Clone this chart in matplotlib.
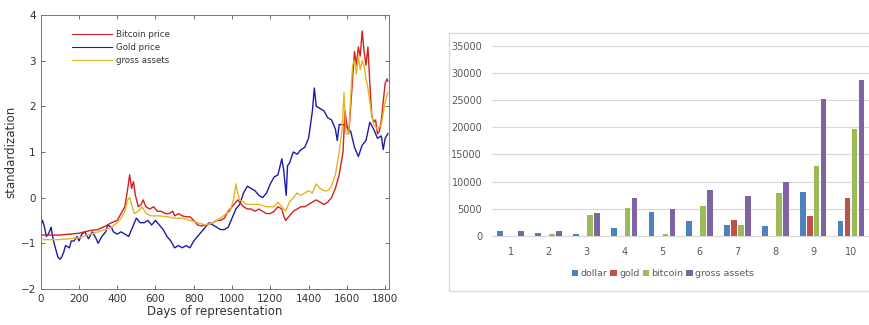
import matplotlib
matplotlib.use("Agg")
import matplotlib.pyplot as plt
import matplotlib.patches as mpatches
from matplotlib.lines import Line2D
import numpy as np

# ── Left panel: standardized series ──────────────────────────────────────────
GOLD_DAYS = [0, 10, 20, 30, 40, 50, 55, 60, 70, 80, 90, 100, 110, 120, 130, 150, 160, 175,
             190, 200, 215, 230, 250, 270, 290, 300, 320, 340, 350, 370, 380, 400, 420, 440,
             460, 475, 490, 500, 520, 540, 560, 580, 600, 620, 640, 660, 680, 700, 720, 740,
             760, 780, 800, 820, 840, 860, 880, 900, 920, 940, 960, 980, 1000, 1020, 1040,
             1060, 1080, 1100, 1120, 1140, 1160, 1180, 1200, 1220, 1240, 1260, 1270, 1283,
             1290, 1300, 1320, 1340, 1360, 1380, 1400, 1420, 1430, 1440, 1460, 1480, 1500,
             1520, 1540, 1550, 1560, 1580, 1600, 1620, 1640, 1660, 1680, 1700, 1720, 1740,
             1760, 1780, 1790, 1800, 1814]
GOLD = [-0.6, -0.5, -0.65, -0.85, -0.8, -0.7, -0.65, -0.8, -1.0, -1.15, -1.3, -1.35, -1.3,
        -1.2, -1.05, -1.1, -0.95, -0.95, -0.85, -0.95, -0.8, -0.75, -0.9, -0.75, -0.9, -1.0,
        -0.85, -0.75, -0.6, -0.65, -0.75, -0.8, -0.75, -0.8, -0.85, -0.7, -0.55, -0.45,
        -0.55, -0.55, -0.5, -0.6, -0.5, -0.6, -0.7, -0.85, -0.95, -1.1, -1.05, -1.1, -1.05,
        -1.1, -0.95, -0.85, -0.75, -0.65, -0.55, -0.6, -0.65, -0.7, -0.7, -0.65, -0.45,
        -0.25, -0.15, 0.1, 0.25, 0.2, 0.15, 0.05, 0.0, 0.1, 0.3, 0.45, 0.5, 0.85, 0.6, 0.05,
        0.7, 0.75, 1.0, 0.95, 1.05, 1.1, 1.3, 1.9, 2.4, 2.0, 1.95, 1.9, 1.75, 1.7, 1.5, 1.25,
        1.6, 1.6, 1.55, 1.45, 1.1, 0.9, 1.15, 1.25, 1.65, 1.5, 1.3, 1.35, 1.05, 1.3, 1.4]

BTC_DAYS = [0, 100, 200, 260, 300, 340, 370, 400, 420, 440, 455, 465, 475, 485, 495, 510,
            525, 535, 550, 570, 590, 610, 630, 650, 670, 690, 700, 720, 740, 760, 780, 800,
            820, 840, 860, 880, 900, 920, 940, 960, 980, 1000, 1020, 1030, 1040, 1060, 1080,
            1100, 1120, 1140, 1160, 1180, 1200, 1220, 1240, 1260, 1270, 1280, 1300, 1320,
            1340, 1360, 1380, 1400, 1420, 1440, 1460, 1480, 1500, 1520, 1540, 1560, 1580,
            1590, 1600, 1610, 1620, 1630, 1640, 1650, 1660, 1670, 1680, 1690, 1700, 1710,
            1720, 1730, 1740, 1750, 1760, 1770, 1780, 1790, 1800, 1810, 1814]
BTC = [-0.82, -0.82, -0.78, -0.72, -0.7, -0.62, -0.55, -0.5, -0.35, -0.2, 0.2, 0.5, 0.2,
       0.35, 0.05, -0.2, -0.15, -0.05, -0.2, -0.25, -0.2, -0.3, -0.3, -0.35, -0.35, -0.3,
       -0.4, -0.35, -0.4, -0.42, -0.42, -0.5, -0.6, -0.62, -0.6, -0.58, -0.55, -0.5, -0.5,
       -0.45, -0.3, -0.2, -0.1, -0.05, -0.1, -0.2, -0.25, -0.25, -0.3, -0.25, -0.3, -0.35,
       -0.35, -0.3, -0.2, -0.25, -0.4, -0.5, -0.4, -0.3, -0.25, -0.2, -0.2, -0.15, -0.1,
       -0.05, -0.1, -0.15, -0.1, 0.0, 0.2, 0.5, 1.0, 1.9, 1.6, 1.4, 2.0, 2.6, 3.2, 2.9, 3.3,
       3.1, 3.65, 3.2, 2.9, 3.3, 2.5, 1.8, 1.65, 1.7, 1.4, 1.45, 1.7, 2.1, 2.5, 2.6, 2.55]

GROSS_DAYS = [0, 100, 200, 260, 300, 340, 370, 400, 420, 440, 455, 465, 475, 490, 510, 530,
              550, 580, 620, 660, 700, 740, 780, 820, 860, 900, 940, 970, 990, 1010, 1020,
              1030, 1040, 1060, 1080, 1100, 1140, 1180, 1220, 1240, 1260, 1280, 1300, 1320,
              1340, 1360, 1380, 1400, 1420, 1440, 1460, 1480, 1500, 1520, 1540, 1560, 1575,
              1585, 1595, 1610, 1620, 1630, 1640, 1650, 1660, 1670, 1680, 1690, 1700, 1710,
              1720, 1730, 1740, 1760, 1780, 1800, 1814]
GROSS = [-0.92, -0.92, -0.88, -0.8, -0.75, -0.7, -0.65, -0.55, -0.45, -0.3, -0.05, 0.0,
         -0.15, -0.35, -0.3, -0.2, -0.35, -0.4, -0.4, -0.42, -0.45, -0.45, -0.5, -0.55,
         -0.6, -0.55, -0.45, -0.35, -0.3, 0.0, 0.3, 0.1, -0.05, -0.1, -0.15, -0.15, -0.15,
         -0.2, -0.2, -0.1, -0.2, -0.3, -0.1, 0.0, 0.1, 0.05, 0.1, 0.15, 0.1, 0.3, 0.2, 0.15,
         0.15, 0.25, 0.5, 1.0, 1.5, 2.3, 1.4, 1.4, 2.2, 2.9, 3.0, 2.7, 3.1, 2.8, 3.0, 2.9,
         2.6, 2.4, 2.1, 1.8, 1.6, 1.5, 1.6, 2.1, 2.3]

# ── Right panel: grouped bars ─────────────────────────────────────────────────
CATEGORIES = [1, 2, 3, 4, 5, 6, 7, 8, 9, 10]
DOLLAR = [900, 500, 400, 1500, 4400, 2700, 2000, 1900, 8100, 2700]
GOLD_B = [0, 0, 0, 0, 0, 0, 2900, 0, 3600, 7000]
BITCOIN = [0, 400, 3800, 5200, 300, 5600, 2100, 7900, 12900, 19600]
GROSS_B = [900, 900, 4200, 7000, 4900, 8400, 7400, 10000, 25300, 28700]

RED = "#d42020"
NAVY = "#1c1ca8"
YELLOW = "#e8b422"
TXT = "#333333"

fig = plt.figure(figsize=(8.69, 3.25), dpi=100)
fig.patch.set_facecolor("white")

# ═══════════════ left: MATLAB-style line plot ═══════════════
ax = fig.add_axes([0.0468, 0.111, 0.4008, 0.843])
ax.plot(GOLD_DAYS, GOLD, color=NAVY, lw=1.0, zorder=2)
ax.plot(GROSS_DAYS, GROSS, color=YELLOW, lw=1.0, zorder=3)
ax.plot(BTC_DAYS, BTC, color=RED, lw=1.0, zorder=2.5)
ax.set_xlim(0, 1820)
ax.set_ylim(-2, 4)
ax.set_xticks(range(0, 1801, 200))
ax.set_yticks(range(-2, 5))
ax.tick_params(direction="in", top=True, right=True, labelsize=7.5, colors="#555555",
               labelcolor=TXT, length=3, width=0.6)
for s in ax.spines.values():
    s.set_color("#777777")
    s.set_linewidth(0.7)
ax.set_xlabel("Days of representation", fontsize=8.5, color=TXT, labelpad=1)
ax.set_ylabel("standardization", fontsize=8.5, color=TXT, labelpad=2)
handles = [Line2D([], [], color=RED, lw=0.8), Line2D([], [], color=NAVY, lw=0.8),
           Line2D([], [], color=YELLOW, lw=0.8)]
leg = ax.legend(handles, ["Bitcoin price", "Gold price", "gross assets"], loc="upper left",
                bbox_to_anchor=(0.068, 0.975), frameon=False, fontsize=6.2, handlelength=4.6,
                handletextpad=0.5, labelspacing=0.5)
for t in leg.get_texts():
    t.set_color(TXT)

# ═══════════════ right: Excel-style grouped bars ═══════════════
box = mpatches.Rectangle((0.5167, 0.1046), 0.52, 0.7939, transform=fig.transFigure,
                         facecolor="white", edgecolor="#d9d9d9", lw=1.0, zorder=-1)
fig.patches.append(box)

bx = fig.add_axes([0.566, 0.274, 0.435, 0.585])
bx.set_zorder(2)
x = np.array(CATEGORIES)
step, w = 0.185, 0.15
cols = ["#4f81bd", "#c0504d", "#9bbb59", "#8064a2"]
names = ["dollar", "gold", "bitcoin", "gross assets"]
for k, (vals, c, n) in enumerate(zip([DOLLAR, GOLD_B, BITCOIN, GROSS_B], cols, names)):
    bx.bar(x + (k - 1.5) * step, vals, w, color=c, label=n, zorder=3)
bx.set_xlim(0.5, 10.5)
bx.set_ylim(0, 35000)
bx.set_yticks(range(0, 35001, 5000))
bx.set_xticks(x)
bx.grid(axis="y", color="#d9d9d9", lw=0.8, zorder=0)
bx.set_axisbelow(True)
for s in ["top", "right", "left"]:
    bx.spines[s].set_visible(False)
bx.spines["bottom"].set_color("#d9d9d9")
bx.tick_params(length=0, labelsize=7, labelcolor="#595959", pad=7)
bx.tick_params(axis="x", pad=8)
bx.patch.set_alpha(0)
bleg = fig.legend(loc="center", bbox_to_anchor=(0.763, 0.157), ncol=4, frameon=False,
                  fontsize=6.8, handlelength=0.7, handleheight=0.7, handletextpad=0.25,
                  columnspacing=0.3, handles=bx.get_legend_handles_labels()[0],
                  labels=names)
for t in bleg.get_texts():
    t.set_color("#595959")

fig.savefig("out.png", dpi=100)
